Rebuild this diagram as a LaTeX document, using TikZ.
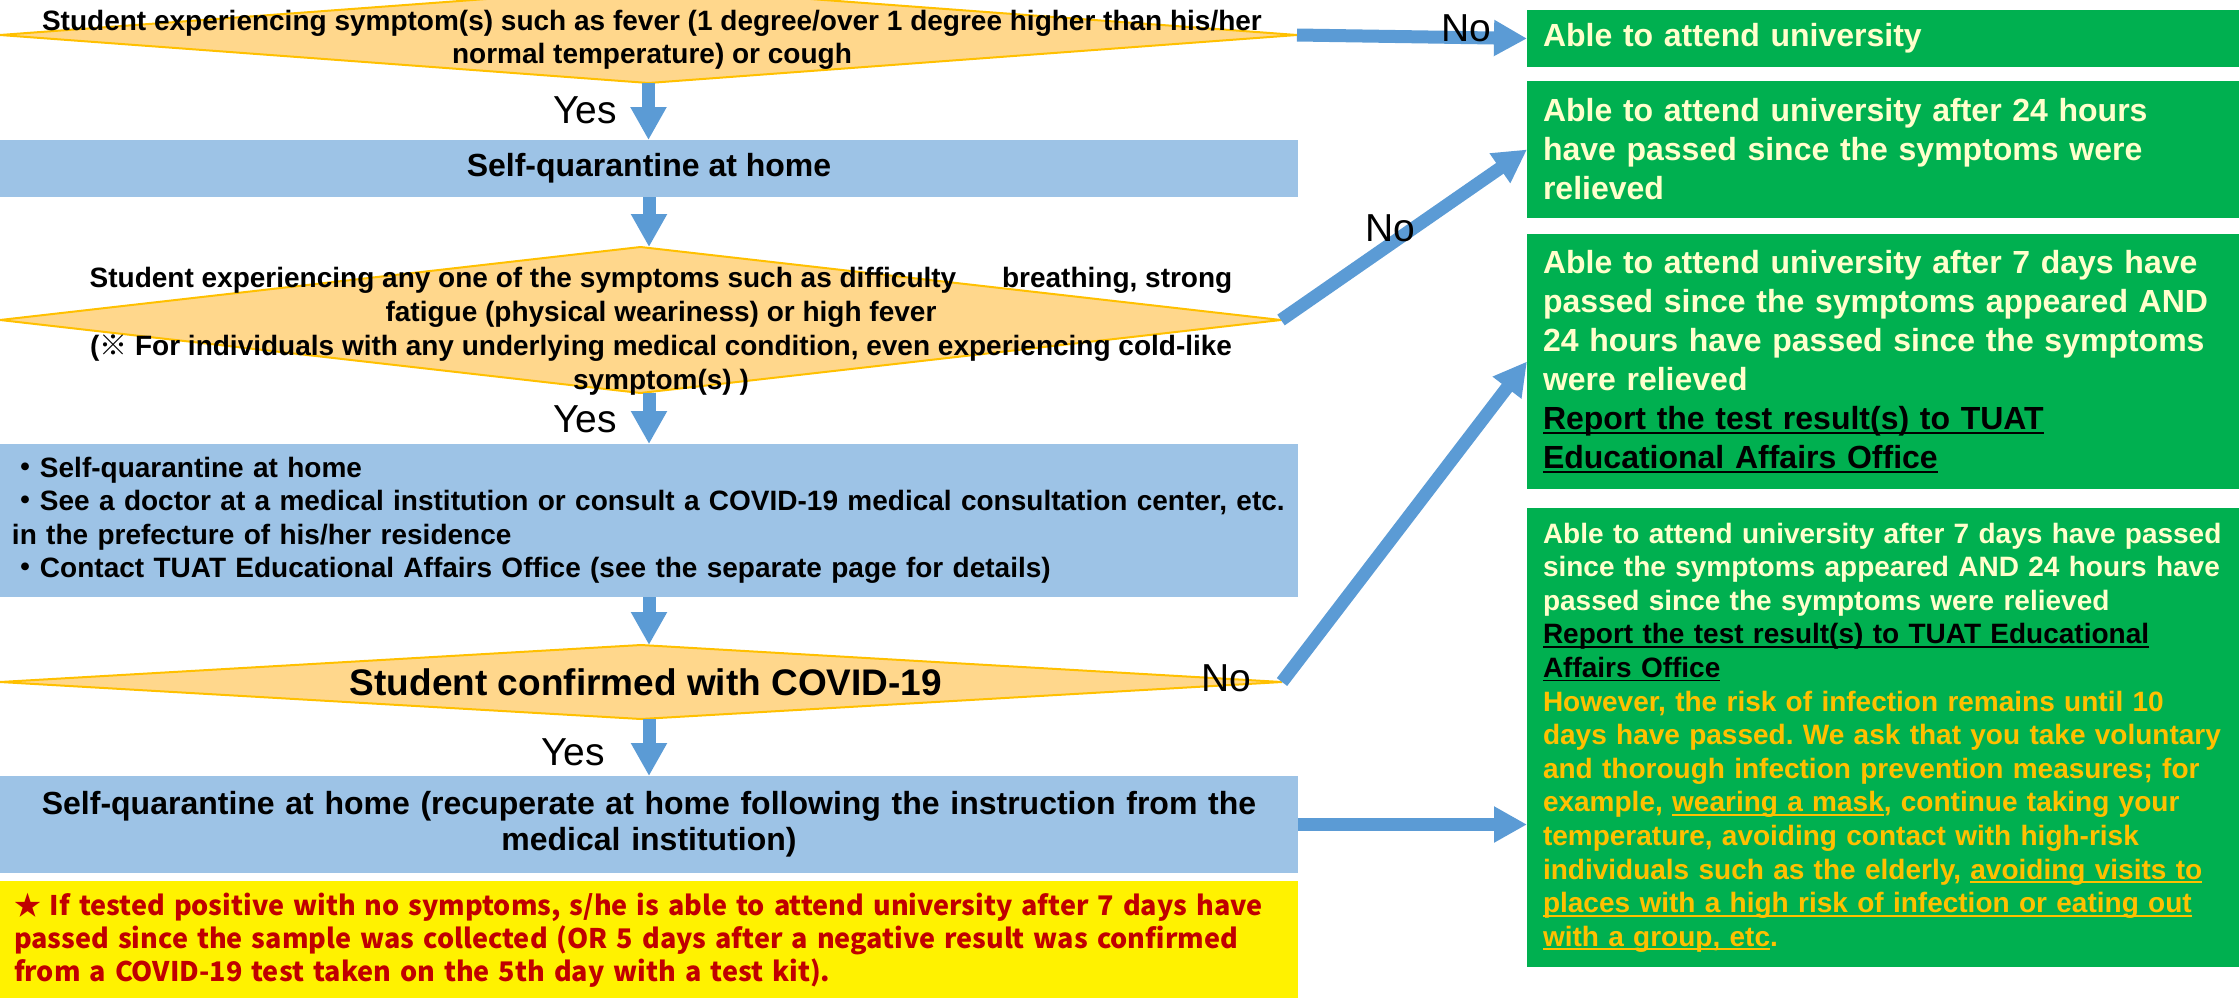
\documentclass[tikz,border=0pt]{standalone}
\usepackage{fontspec}
\setmainfont{Liberation Sans}
\newfontfamily\cjk{Noto Sans CJK JP}
\usepackage{tikz}
\usetikzlibrary{shapes.geometric,arrows.meta,calc}

\definecolor{arrowblue}{HTML}{5B9BD5}
\definecolor{boxblue}{HTML}{9DC3E6}
\definecolor{diafill}{HTML}{FFD78C}
\definecolor{diaedge}{HTML}{FFC000}
\definecolor{okgreen}{HTML}{00B050}
\definecolor{paleyellow}{HTML}{FFFFCC}
\definecolor{warnorange}{HTML}{FFC000}
\definecolor{notered}{HTML}{C00000}

\newcommand{\fsz}[2]{\fontsize{#1}{#2}\selectfont}
\newcommand{\ulx}[1]{\setbox0\hbox{#1}\rlap{\rule[-4pt]{\wd0}{1.8pt}}\box0}
\frenchspacing

\begin{document}
\begin{tikzpicture}[x=1pt,y=-1pt,
    check/.style={shape=diamond,draw=diaedge,fill=diafill,line width=2pt,inner sep=0pt,outer sep=0pt},
    stepbox/.style={fill=boxblue,inner sep=0pt,outer sep=0pt,minimum width=1298pt},
    result/.style={fill=okgreen,text=paleyellow,anchor=west,inner xsep=16pt,inner ysep=0pt,outer sep=0pt,text width=690pt,align=left},
    flow/.style={draw=arrowblue,line width=13pt,-{Triangle[width=34pt,length=33pt]}},
    answer/.style={font=\fsz{39}{45}}]
            \useasboundingbox (0,0) rectangle (2239,997);
            \clip (0,0) rectangle (2239,997);

            \node (check01) at (648.5,35) [check,minimum width=1297pt,minimum height=96pt] {};
            \node (text01) at (652,40) [align=center,font=\fsz{28}{33}\bfseries] {Student experiencing symptom(s) such as fever (1 degree/over 1 degree higher than his/her\\normal temperature) or cough};
            \node (stay01) at (649,168.5) [stepbox,minimum height=57pt,font=\fsz{32}{38}\bfseries] {Self-quarantine at home};

            \node (check02) at (640.5,320) [check,minimum width=1281pt,minimum height=146pt] {};
            \node (text02) at (661,331) [align=center,font=\fsz{28}{34}\bfseries] {Student experiencing any one of the symptoms such as difficulty\hspace{38pt} breathing, strong\\fatigue (physical weariness) or high fever\\({\cjk ※} For individuals with any underlying medical condition, even experiencing cold-like\\symptom(s) )};
            \node (stay02) at (649,520.5) [stepbox,minimum height=153pt,inner xsep=12pt,text width=1274pt,align=left,font=\fsz{28}{33.5}\bfseries] {{\cjk ・}Self-quarantine at home\\{\cjk ・}See a doctor at a medical institution or consult a COVID-19 medical consultation center, etc.\\in the prefecture of his/her residence\\{\cjk ・}Contact TUAT Educational Affairs Office (see the separate page for details)};

            \node (check03) at (641,682) [check,minimum width=1282pt,minimum height=74pt] {};
            \node (text03) at (646,682) [font=\fsz{37}{44}\bfseries] {Student confirmed with COVID-19};
            \node (stay03) at (649,824.5) [stepbox,minimum height=97pt,text width=1260pt,align=center,font=\fsz{32}{36}\bfseries] {Self-quarantine at home (recuperate at home following the instruction from the\\medical institution)};
            \node (note01) at (649,940) [minimum width=1298pt,minimum height=118pt,fill=yellow,text=notered,inner sep=0pt,inner xsep=14pt,text width=1270pt,align=left,font=\fsz{27}{33}\cjk\bfseries] {★ If tested positive with no symptoms, s/he is able to attend university after 7 days have\\passed since the sample was collected (OR 5 days after a negative result was confirmed\\from a COVID-19 test taken on the 5th day with a test kit).};

            \node (result01) at (1527,38.5) [result,minimum height=57pt,font=\fsz{32}{39}\bfseries] {Able to attend university};
            \node (result02) at (1527,149.5) [result,minimum height=137pt,font=\fsz{32}{39}\bfseries] {Able to attend university after 24 hours\\have passed since the symptoms were\\relieved};
            \node (result03) at (1527,361.5) [result,minimum height=255pt,font=\fsz{32}{39}\bfseries] {Able to attend university after 7 days have\\passed since the symptoms appeared AND\\24 hours have passed since the symptoms\\were relieved\\\textcolor{black}{\ulx{Report the test result(s) to TUAT}}\\\textcolor{black}{\ulx{Educational Affairs Office}}};
            \node (result04) at (1527,737.5) [result,minimum height=459pt,font=\fsz{28}{33.6}\bfseries] {Able to attend university after 7 days have passed\\since the symptoms appeared AND 24 hours have\\passed since the symptoms were relieved\\\textcolor{black}{\ulx{Report the test result(s) to TUAT Educational}}\\\textcolor{black}{\ulx{Affairs Office}}\\\textcolor{warnorange}{However, the risk of infection remains until 10}\\\textcolor{warnorange}{days have passed. We ask that you take voluntary}\\\textcolor{warnorange}{and thorough infection prevention measures; for}\\\textcolor{warnorange}{example, \ulx{wearing a mask}, continue taking your}\\\textcolor{warnorange}{temperature, avoiding contact with high-risk}\\\textcolor{warnorange}{individuals such as the elderly, \ulx{avoiding visits to}}\\\textcolor{warnorange}{\ulx{places with a high risk of infection or eating out}}\\\textcolor{warnorange}{\ulx{with a group, etc}.}};

            \draw[flow] (check01.south) -- (check01.south |- stay01.north);
            \draw[flow] (stay01.south) -- (stay01.south |- check02.north);
            \draw[flow] (stay01.south |- check02.south) -- (stay01.south |- stay02.north);
            \draw[flow] (stay02.south) -- (stay02.south |- check03.north);
            \draw[flow] (stay02.south |- check03.south) -- (stay02.south |- stay03.north);

            \draw[flow] (check01.east) -- (result01.west);
            \draw[flow] (check02.east) -- (result02.west);
            \draw[flow] (check03.east) -- (result03.west);
            \draw[flow] (stay03.east) -- (stay03.east -| result04.west);

            \node (yes01) at (585,110) [answer] {Yes};
            \node (yes02) at (585,419) [answer] {Yes};
            \node (yes03) at (573,752) [answer] {Yes};
            \node (no01) at (1466,28) [answer] {No};
            \node (no02) at (1390,228) [answer] {No};
            \node (no03) at (1226,678) [answer] {No};
        \end{tikzpicture}
\end{document}
